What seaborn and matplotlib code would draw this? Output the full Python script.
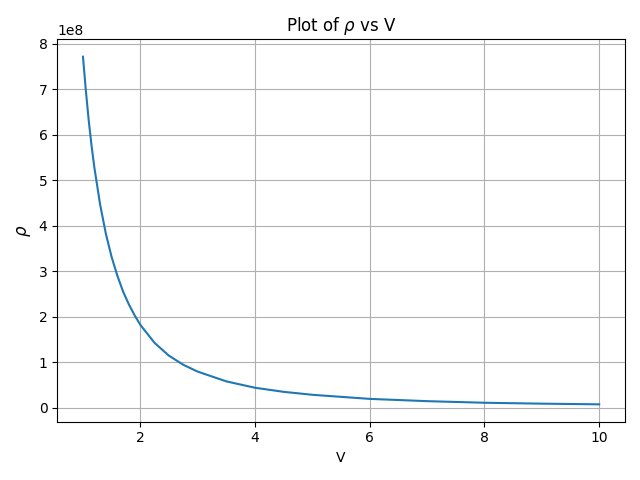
import matplotlib
matplotlib.use("Agg")
import matplotlib.pyplot as plt
import seaborn as sns
import pandas as pd

# values
volume = [1.0, 1.05, 1.1, 1.15, 1.2, 1.3, 1.4, 1.5, 1.6, 1.7, 1.8, 1.9,
          2.0, 2.25, 2.5, 2.75, 3.0, 3.5, 4.0, 4.5, 5.0, 6.0, 7.0, 8.0,
          9.0, 10.0]
density = [7.72e8, 6.98e8, 6.32e8, 5.76e8, 5.27e8, 4.46e8, 3.82e8, 3.31e8,
           2.90e8, 2.55e8, 2.27e8, 2.03e8, 1.82e8, 1.42e8, 1.14e8, 0.94e8,
           0.79e8, 0.575e8, 0.435e8, 0.345e8, 0.28e8, 0.19e8, 0.14e8,
           0.105e8, 0.085e8, 0.07e8]

df = pd.DataFrame({"V": volume, "rho": density})

fig, ax = plt.subplots(figsize=(6.4, 4.8), dpi=100)
sns.lineplot(data=df, x="V", y="rho", ax=ax, color="#1f77b4", linewidth=1.5)
ax.set_title(r"Plot of $\rho$ vs V")
ax.set_xlabel("V")
ax.set_ylabel(r"$\rho$", fontsize=12)
ax.grid(True)
plt.tight_layout()
plt.savefig("out.png", dpi=100)
plt.close()
